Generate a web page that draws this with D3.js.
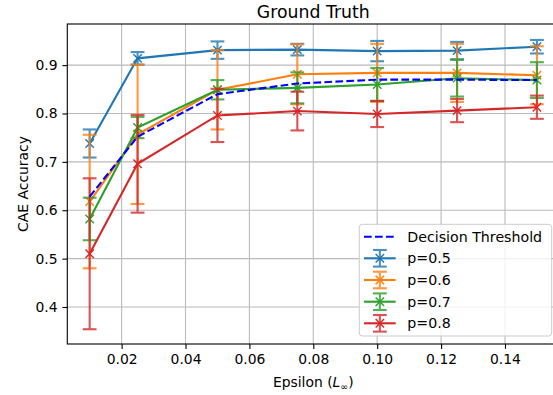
<!DOCTYPE html>
<html>
<head>
<meta charset="utf-8">
<script src="https://cdn.jsdelivr.net/npm/d3@7.9.0/dist/d3.min.js"></script>
<style>
  body { margin: 0; background: #fff; }
  svg { display: block; font-family: "DejaVu Sans", sans-serif; }
</style>
</head>
<body>
<div id="chart"></div>
<script>
const epsilons = [0.01, 0.025, 0.05, 0.075, 0.1, 0.125, 0.15];
const threshold = [0.628, 0.752, 0.840, 0.862, 0.870, 0.870, 0.869];

const seriesNames = ['p=0.5', 'p=0.6', 'p=0.7', 'p=0.8'];
const seriesColors = ['#1f77b4', '#ff7f0e', '#2ca02c', '#d62728'];
const means = [
  [0.738, 0.914, 0.931, 0.932, 0.929, 0.930, 0.938],
  [0.618, 0.757, 0.849, 0.881, 0.884, 0.884, 0.879],
  [0.582, 0.771, 0.849, 0.853, 0.860, 0.873, 0.869],
  [0.510, 0.696, 0.796, 0.805, 0.799, 0.806, 0.813]
];
const errors = [
  [0.029, 0.013, 0.018, 0.012, 0.021, 0.018, 0.014],
  [0.138, 0.144, 0.082, 0.062, 0.060, 0.060, 0.060],
  [0.044, 0.022, 0.020, 0.032, 0.034, 0.038, 0.037],
  [0.156, 0.101, 0.055, 0.040, 0.027, 0.024, 0.024]
];
const xTicks = [0.02, 0.04, 0.06, 0.08, 0.10, 0.12, 0.14];
const yTicks = [0.4, 0.5, 0.6, 0.7, 0.8, 0.9];

const width = 553, height = 395;
const plot = { left: 67.3, right: 559.3, top: 24, bottom: 344 };

const svg = d3.select('#chart').append('svg')
  .attr('width', width).attr('height', height);

const x = d3.scaleLinear().domain([0.003, 0.157]).range([plot.left, plot.right]);
const y = d3.scaleLinear().domain([0.3235, 0.985]).range([plot.bottom, plot.top]);

// grid
const grid = svg.append('g').attr('stroke', '#b0b0b0').attr('stroke-width', 1.1).attr('opacity', 0.85);
grid.selectAll('.gx').data(xTicks).join('line')
  .attr('x1', d => x(d)).attr('x2', d => x(d))
  .attr('y1', plot.top).attr('y2', plot.bottom);
grid.selectAll('.gy').data(yTicks).join('line')
  .attr('x1', plot.left).attr('x2', plot.right)
  .attr('y1', d => y(d)).attr('y2', d => y(d));

// axes
const xAxis = svg.append('g')
  .attr('transform', `translate(0,${plot.bottom})`)
  .call(d3.axisBottom(x).tickValues(xTicks).tickFormat(d3.format('.2f')).tickSize(4.9).tickPadding(4.9));
const yAxis = svg.append('g')
  .attr('transform', `translate(${plot.left},0)`)
  .call(d3.axisLeft(y).tickValues(yTicks).tickFormat(d3.format('.1f')).tickSize(4.9).tickPadding(4.9));
[xAxis, yAxis].forEach(a => {
  a.select('.domain').remove();
  a.selectAll('text').attr('font-size', 13.9).attr('fill', '#000')
    .attr('font-family', '"DejaVu Sans", sans-serif');
  a.selectAll('line').attr('stroke', '#000').attr('stroke-width', 1.1);
});

// series
const line = d3.line().x(d => x(d[0])).y(d => y(d[1]));
const capW = 6.9;

function xMarker(g, cx, cy, color) {
  const s = 4.2;
  g.append('path')
    .attr('d', `M${cx - s},${cy - s}L${cx + s},${cy + s}M${cx - s},${cy + s}L${cx + s},${cy - s}`)
    .attr('stroke', color).attr('stroke-width', 1.4).attr('fill', 'none');
}

seriesNames.forEach((name, i) => {
  const g = svg.append('g');
  const pts = epsilons.map((e, j) => [e, means[i][j]]);
  g.append('path').attr('d', line(pts))
    .attr('fill', 'none').attr('stroke', seriesColors[i]).attr('stroke-width', 2.1);
  const eb = g.append('g').attr('stroke', seriesColors[i]).attr('stroke-width', 2.1).attr('opacity', 0.8);
  epsilons.forEach((e, j) => {
    const lo = y(means[i][j] - errors[i][j]);
    const hi = y(means[i][j] + errors[i][j]);
    eb.append('line').attr('x1', x(e)).attr('x2', x(e)).attr('y1', lo).attr('y2', hi);
    eb.append('line').attr('x1', x(e) - capW).attr('x2', x(e) + capW).attr('y1', lo).attr('y2', lo);
    eb.append('line').attr('x1', x(e) - capW).attr('x2', x(e) + capW).attr('y1', hi).attr('y2', hi);
  });
  pts.forEach(p => xMarker(g, x(p[0]), y(p[1]), seriesColors[i]));
});

// decision threshold
svg.append('path')
  .attr('d', line(epsilons.map((e, j) => [e, threshold[j]])))
  .attr('fill', 'none').attr('stroke', '#0000ff').attr('stroke-width', 2.1)
  .attr('stroke-dasharray', '7.7,3.3');

// spines
svg.append('rect')
  .attr('x', plot.left).attr('y', plot.top)
  .attr('width', plot.right - plot.left).attr('height', plot.bottom - plot.top)
  .attr('fill', 'none').attr('stroke', '#000').attr('stroke-width', 1.1);

// title and labels
svg.append('text').attr('x', (plot.left + plot.right) / 2).attr('y', 18)
  .attr('text-anchor', 'middle').attr('font-size', 17.3).text('Ground Truth');

const xl = svg.append('text').attr('x', (plot.left + plot.right) / 2).attr('y', 387)
  .attr('text-anchor', 'middle').attr('font-size', 13.9);
xl.append('tspan').text('Epsilon (');
xl.append('tspan').attr('font-style', 'italic').text('L');
xl.append('tspan').attr('font-size', 9.5).attr('dy', 2.5).text('∞');
xl.append('tspan').attr('dy', -2.5).text(')');

svg.append('text')
  .attr('transform', `translate(28,${(plot.top + plot.bottom) / 2}) rotate(-90)`)
  .attr('text-anchor', 'middle').attr('font-size', 13.9).text('CAE Accuracy');

// legend
const leg = svg.append('g');
leg.append('rect').attr('x', 359.3).attr('y', 224.3).attr('width', 192.4).attr('height', 111.7)
  .attr('rx', 3).attr('fill', '#fff').attr('fill-opacity', 0.8)
  .attr('stroke', '#cccccc').attr('stroke-width', 1);
const rowY = [236.7, 258.3, 280, 301.7, 323.3];
const hx0 = 364, hx1 = 395.7, hxc = (hx0 + hx1) / 2;
leg.append('line').attr('x1', hx0).attr('x2', hx1).attr('y1', rowY[0]).attr('y2', rowY[0])
  .attr('stroke', '#0000ff').attr('stroke-width', 2.1).attr('stroke-dasharray', '7.7,3.3');
leg.append('text').attr('x', 407.3).attr('y', rowY[0]).attr('dy', '0.35em')
  .attr('font-size', 14.2).text('Decision Threshold');
seriesNames.forEach((name, i) => {
  const cy = rowY[i + 1];
  const c = seriesColors[i];
  leg.append('line').attr('x1', hx0).attr('x2', hx1).attr('y1', cy).attr('y2', cy)
    .attr('stroke', c).attr('stroke-width', 2.1);
  const eb = leg.append('g').attr('stroke', c).attr('stroke-width', 2.1).attr('opacity', 0.8);
  eb.append('line').attr('x1', hxc).attr('x2', hxc).attr('y1', cy - 8.3).attr('y2', cy + 8.3);
  eb.append('line').attr('x1', hxc - capW).attr('x2', hxc + capW).attr('y1', cy - 8.3).attr('y2', cy - 8.3);
  eb.append('line').attr('x1', hxc - capW).attr('x2', hxc + capW).attr('y1', cy + 8.3).attr('y2', cy + 8.3);
  xMarker(leg, hxc, cy, c);
  leg.append('text').attr('x', 407.3).attr('y', cy).attr('dy', '0.35em')
    .attr('font-size', 14.2).text(name);
});
</script>
</body>
</html>
